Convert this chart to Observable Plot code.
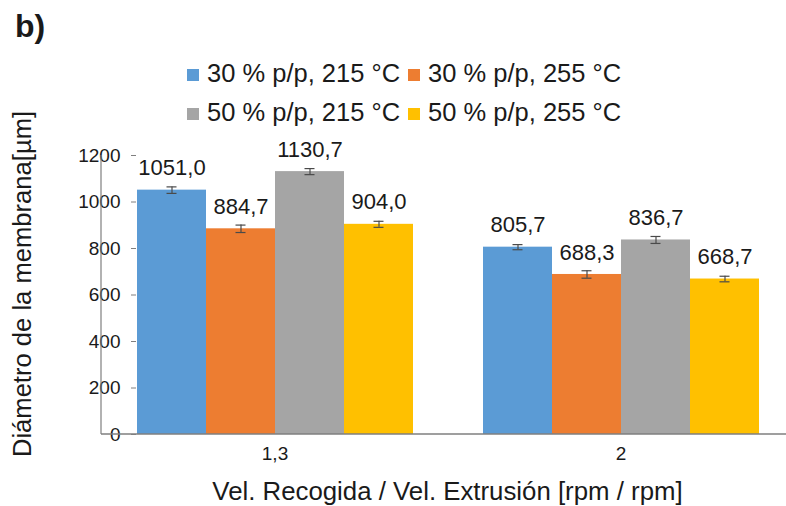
<!DOCTYPE html>
<html>
<head>
<meta charset="utf-8">
<script src="https://cdn.jsdelivr.net/npm/d3@7"></script>
<script src="https://cdn.jsdelivr.net/npm/@observablehq/plot@0.6"></script>
<style>
  html, body { margin: 0; padding: 0; background: #fff; }
  #wrap { position: relative; width: 786px; height: 506px; overflow: hidden; font-family: "Liberation Sans", Arial, sans-serif; color: #1a1a1a; }
  #wrap svg { position: absolute; left: 0; top: 0; }
  .title { position: absolute; left: 15px; top: 6px; font-size: 32px; font-weight: bold; line-height: 40px; }
  .legrow { position: absolute; left: 187px; display: flex; align-items: center; font-size: 25.5px; line-height: 30px; white-space: nowrap; }
  .legitem { display: flex; align-items: center; margin-right: 8px; }
  .sw { width: 12px; height: 12px; margin-right: 8px; margin-top: 3px; }
  .xtitle { position: absolute; left: 101px; width: 693px; text-align: center; top: 476px; font-size: 25.8px; line-height: 30px; white-space: nowrap; }
  .ytitle { position: absolute; left: 22px; top: 284px; font-size: 25.6px; line-height: 30px; white-space: nowrap; transform: translate(-50%, -50%) rotate(-90deg); }
  g[aria-label="y-axis tick"] path { stroke: #7f7f7f; }
  g[aria-label="y-axis tick label"], g[aria-label="y-axis tick label"] text,
  g[aria-label="fx-axis tick label"], g[aria-label="fx-axis tick label"] text { font-size: 19px !important; }
</style>
</head>
<body>
<div id="wrap"></div>
<script>
// ---- data ----
const categories = ["1,3", "2"];
const series = ["30 % p/p, 215 °C", "30 % p/p, 255 °C", "50 % p/p, 215 °C", "50 % p/p, 255 °C"];
const colors = ["#5B9BD5", "#ED7D31", "#A5A5A5", "#FFC000"];
const values_30_215 = [1051.0, 805.7];
const values_30_255 = [884.7, 688.3];
const values_50_215 = [1130.7, 836.7];
const values_50_255 = [904.0, 668.7];
const errors_30_215 = [14, 11];
const errors_30_255 = [16, 16];
const errors_50_215 = [13, 15];
const errors_50_255 = [13, 12];
const yTicks = [0, 200, 400, 600, 800, 1000, 1200];
const title = "b)";
const xTitle = "Vel. Recogida / Vel. Extrusión [rpm / rpm]";
const yTitle = "Diámetro de la membrana[µm]";

const values = [values_30_215, values_30_255, values_50_215, values_50_255];
const errors = [errors_30_215, errors_30_255, errors_50_215, errors_50_255];
const data = categories.flatMap((c, i) => series.map((s, j) => ({cat: c, ser: s, v: values[j][i], e: errors[j][i]})));
const fmt = v => d3.format(".1f")(v).replace(".", ",");

const errStroke = "#4a4a4a";
const plot = Plot.plot({
  width: 786,
  height: 506,
  marginTop: 155,
  marginBottom: 72,
  marginLeft: 101,
  marginRight: 0,
  style: {fontFamily: "'Liberation Sans', Arial, sans-serif", fontSize: "19px", color: "#1a1a1a", background: "transparent", overflow: "visible"},
  fx: {domain: categories, range: [101, 794], paddingInner: 0.2, paddingOuter: 0.1, axis: "bottom", label: null, tickSize: 0, tickPadding: 12},
  x: {domain: series, padding: 0, axis: null},
  y: {domain: [0, 1200], ticks: yTicks, tickSize: 5, tickPadding: 11, label: null, tickFormat: d => String(d)},
  color: {domain: series, range: colors},
  marks: [
    Plot.barY(data, {fx: "cat", x: "ser", y: "v", fill: "ser"}),
    Plot.ruleX(data, {fx: "cat", x: "ser", y1: d => d.v - d.e, y2: d => d.v + d.e, stroke: errStroke, strokeWidth: 1.2}),
    Plot.tickY(data, {fx: "cat", x: "ser", y: d => d.v - d.e, stroke: errStroke, strokeWidth: 1.2, insetLeft: 29.5, insetRight: 29.5}),
    Plot.tickY(data, {fx: "cat", x: "ser", y: d => d.v + d.e, stroke: errStroke, strokeWidth: 1.2, insetLeft: 29.5, insetRight: 29.5}),
    Plot.text(data, {fx: "cat", x: "ser", y: "v", text: d => fmt(d.v), dy: -22, fontSize: 22, fill: "#1a1a1a"})
  ]
});

// axis lines drawn from the plot's own scales
const ys = plot.scale("y");
const sel = d3.select(plot);
const y0 = ys.apply(0), yTop = ys.apply(1200);
sel.append("line").attr("x1", 101).attr("x2", 786).attr("y1", y0).attr("y2", y0)
  .attr("stroke", "#7f7f7f").attr("stroke-width", 1.5);
sel.append("line").attr("x1", 101).attr("x2", 101).attr("y1", yTop).attr("y2", y0)
  .attr("stroke", "#7f7f7f").attr("stroke-width", 1.2);

const wrap = document.getElementById("wrap");
wrap.appendChild(plot);

// title & legend
const t = document.createElement("div"); t.className = "title"; t.textContent = title; wrap.appendChild(t);
[[0, 1], [2, 3]].forEach((row, r) => {
  const div = document.createElement("div");
  div.className = "legrow";
  div.style.top = (r === 0 ? 58 : 97) + "px";
  row.forEach(j => {
    const it = document.createElement("div"); it.className = "legitem";
    const sw = document.createElement("span"); sw.className = "sw"; sw.style.background = colors[j];
    const tx = document.createElement("span"); tx.textContent = series[j];
    it.appendChild(sw); it.appendChild(tx); div.appendChild(it);
  });
  wrap.appendChild(div);
});
const xt = document.createElement("div"); xt.className = "xtitle"; xt.textContent = xTitle; wrap.appendChild(xt);
const yt = document.createElement("div"); yt.className = "ytitle"; yt.textContent = yTitle; wrap.appendChild(yt);
</script>
</body>
</html>
